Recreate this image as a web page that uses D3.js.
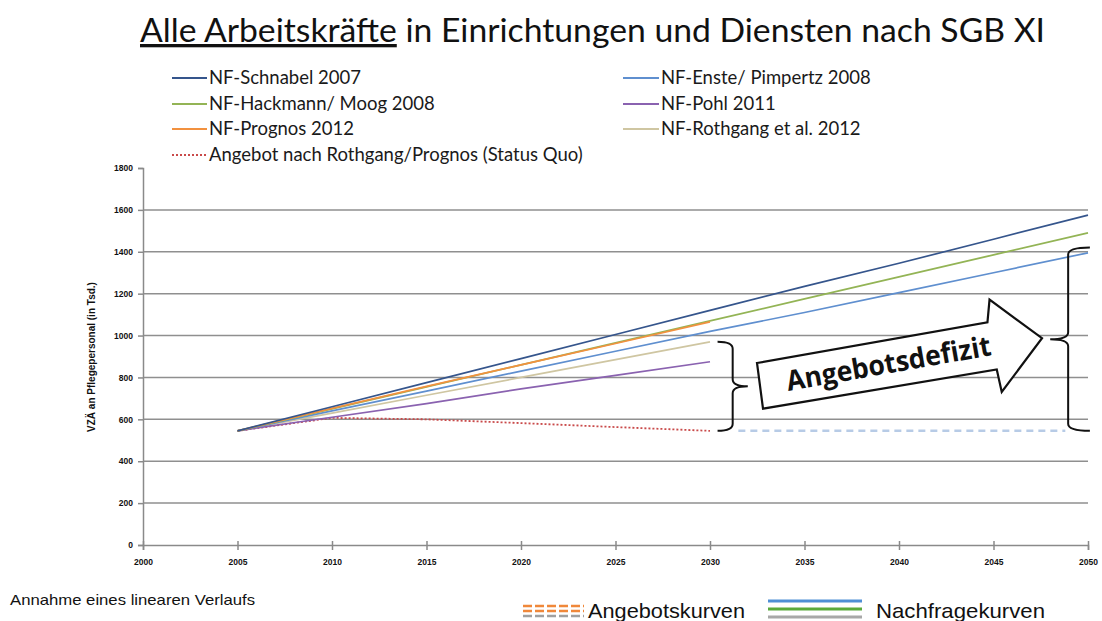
<!DOCTYPE html>
<html>
<head>
<meta charset="utf-8">
<script src="https://cdn.jsdelivr.net/npm/d3@7"></script>
<style>
  body { margin: 0; background: #fff; }
  svg { display: block; }
</style>
</head>
<body>
<div id="chart"></div>
<script>
// data (values in Tsd. VZÄ)
const years = [2005, 2010, 2015, 2020, 2025, 2030, 2035, 2040, 2045, 2050];
const schnabel = [545, 660, 775, 890, 1005, 1120, 1235, 1345, 1460, 1575];
const enste = [545, 640, 735, 830, 925, 1020, 1110, 1205, 1300, 1395];
const hackmann = [545, 650, 755, 860, 965, 1070, 1175, 1280, 1385, 1490];
const pohl = [545, 610, 675, 745, 810, 875];
const prognos = [545, 652, 757, 860, 962, 1065];
const rothgang = [545, 630, 715, 800, 885, 970];
const angebot = [545, 607, 600, 582, 563, 545];
const angebotExtYears = [2031.5, 2048.8];
const angebotExt = [545, 545];

const yTicks = [0, 200, 400, 600, 800, 1000, 1200, 1400, 1600, 1800];
const xTicks = [2000, 2005, 2010, 2015, 2020, 2025, 2030, 2035, 2040, 2045, 2050];

const series = [
    { name: "NF-Schnabel 2007", values: schnabel, color: "#35558c" },
    { name: "NF-Enste/ Pimpertz 2008", values: enste, color: "#5f8fcf" },
    { name: "NF-Hackmann/ Moog 2008", values: hackmann, color: "#93b455" },
    { name: "NF-Pohl 2011", values: pohl, color: "#8a62b0" },
    { name: "NF-Prognos 2012", values: prognos, color: "#f2913f" },
    { name: "NF-Rothgang et al. 2012", values: rothgang, color: "#cfc6a2" },
    { name: "Angebot nach Rothgang/Prognos (Status Quo)", values: angebot, color: "#c94a4a", dash: "2,2" }
];

const width = 1102, height = 621;

let svg = d3.select("#chart")
    .append("svg")
    .attr("width", width)
    .attr("height", height);

let x = d3.scaleLinear().domain([2000, 2050]).range([143, 1088]);
let y = d3.scaleLinear().domain([0, 1800]).range([545, 168]);

// title
let title = svg.append("text")
    .attr("x", 140)
    .attr("y", 42)
    .style("font-family", "Lato, 'Open Sans', sans-serif")
    .style("font-size", "33px")
    .style("fill", "#111")
    .attr("textLength", 905)
    .attr("lengthAdjust", "spacingAndGlyphs");
title.append("tspan").text("Alle Arbeitskräfte").style("text-decoration", "underline");
title.append("tspan").text(" in Einrichtungen und Diensten nach SGB XI");

// legend (two columns)
let legendPos = [
    [172, 78], [623, 78],
    [172, 104], [623, 104],
    [172, 129], [623, 129],
    [172, 155]
];
let legend = svg.append("g").attr("class", "legend");
series.forEach(function (s, i) {
    let p = legendPos[i];
    let lw = p[0] < 500 ? 35 : 36;
    legend.append("line")
        .attr("x1", p[0]).attr("x2", p[0] + lw)
        .attr("y1", p[1]).attr("y2", p[1])
        .style("stroke", s.color)
        .style("stroke-width", 1.8)
        .style("stroke-dasharray", s.dash || null);
    legend.append("text")
        .attr("x", p[0] + lw + 2)
        .attr("y", p[1] + 6)
        .text(s.name)
        .style("font-family", "Lato, sans-serif")
        .style("font-size", "18.5px")
        .style("fill", "#1a1a1a");
});

// grid
svg.append("g")
    .selectAll("line")
    .data(yTicks.filter(d => d > 0 && d < 1800))
    .enter()
    .append("line")
    .attr("x1", x(2000)).attr("x2", x(2050))
    .attr("y1", d => y(d)).attr("y2", d => y(d))
    .style("stroke", "#8f8f8f")
    .style("stroke-width", 1.5);

// y axis
let yAxis = svg.append("g")
    .attr("transform", "translate(" + x(2000) + ",0)")
    .call(d3.axisLeft(y).tickValues(yTicks).tickFormat(d3.format("d")).tickSize(5).tickPadding(5));
yAxis.select(".domain").style("stroke", "#8a8a8a").style("stroke-width", 1.5);
yAxis.selectAll(".tick line").style("stroke", "#8a8a8a").style("stroke-width", 1.5);
yAxis.selectAll(".tick text")
    .style("font-family", "'Liberation Sans', Arial, sans-serif")
    .style("font-weight", "bold")
    .style("font-size", "8.5px")
    .style("fill", "#111");

// x axis
let xAxis = svg.append("g")
    .attr("transform", "translate(0," + y(0) + ")")
    .call(d3.axisBottom(x).tickValues(xTicks).tickFormat(d3.format("d")).tickSize(5).tickPadding(9));
xAxis.select(".domain").style("stroke", "#8a8a8a").style("stroke-width", 1.5);
xAxis.selectAll(".tick line").attr("y1", -4).style("stroke", "#8a8a8a").style("stroke-width", 1.5);
xAxis.selectAll(".tick text")
    .style("font-family", "'Liberation Sans', Arial, sans-serif")
    .style("font-weight", "bold")
    .style("font-size", "8.5px")
    .style("fill", "#111");

svg.append("text")
    .attr("transform", "translate(95,357) rotate(-90)")
    .style("text-anchor", "middle")
    .style("font-family", "'Liberation Sans', Arial, sans-serif")
    .style("font-weight", "bold")
    .style("font-size", "10px")
    .style("fill", "#111")
    .text("VZÄ an Pflegepersonal (in Tsd.)");

// lines
let line = d3.line()
    .x(d => x(d[0]))
    .y(d => y(d[1]));

let drawOrder = [6, 5, 3, 1, 2, 4, 0];
drawOrder.forEach(function (i) {
    let s = series[i];
    svg.append("path")
        .datum(s.values.map((v, j) => [years[j], v]))
        .attr("d", line)
        .style("fill", "none")
        .style("stroke", s.color)
        .style("stroke-width", s.dash ? 1.8 : 1.7)
        .style("stroke-dasharray", s.dash || null);
});

// status quo extension
svg.append("path")
    .datum(angebotExt.map((v, j) => [angebotExtYears[j], v]))
    .attr("d", line)
    .style("fill", "none")
    .style("stroke", "#b7cbe6")
    .style("stroke-width", 2.5)
    .style("stroke-dasharray", "7,5");

// braces
function brace(x0, tipX, nubX, yTop, yBot) {
    let ym = (yTop + yBot) / 2, r = 7;
    return "M" + tipX + "," + yTop +
        "Q" + x0 + "," + yTop + " " + x0 + "," + (yTop + r) +
        "L" + x0 + "," + (ym - r) +
        "Q" + x0 + "," + ym + " " + nubX + "," + ym +
        "Q" + x0 + "," + ym + " " + x0 + "," + (ym + r) +
        "L" + x0 + "," + (yBot - r) +
        "Q" + x0 + "," + yBot + " " + tipX + "," + yBot;
}
svg.append("path")
    .attr("d", brace(x(2031.2), x(2030.4), x(2032.0), y(970), y(545)))
    .style("fill", "none").style("stroke", "#111").style("stroke-width", 2);
svg.append("path")
    .attr("d", brace(x(2048.95), x(2050.1), x(2048.0), y(1420), y(545)))
    .style("fill", "none").style("stroke", "#111").style("stroke-width", 2);

// big arrow
let arrow = svg.append("g")
    .attr("transform", "translate(757,363) rotate(-10)");
arrow.append("polygon")
    .attr("points", [[0, 0], [234, 0], [240, -22], [285, 25], [236, 71], [235, 48], [-2, 46]].join(" "))
    .style("fill", "#fff")
    .style("stroke", "#111")
    .style("stroke-width", 2.2);
arrow.append("text")
    .attr("x", 26)
    .attr("y", 33)
    .attr("textLength", 207)
    .attr("lengthAdjust", "spacingAndGlyphs")
    .text("Angebotsdefizit")
    .style("font-family", "'Open Sans', sans-serif")
    .style("font-weight", "bold")
    .style("font-size", "28px")
    .style("fill", "#111");

// notes at the bottom
svg.append("text")
    .attr("x", 10).attr("y", 605)
    .attr("textLength", 245)
    .attr("lengthAdjust", "spacingAndGlyphs")
    .text("Annahme eines linearen Verlaufs")
    .style("font-family", "'Liberation Sans', sans-serif")
    .style("font-size", "15px")
    .style("fill", "#111");

let dashRows = [["#f0883a", 606], ["#f0883a", 611], ["#a0a0a0", 616]];
dashRows.forEach(function (r) {
    svg.append("line")
        .attr("x1", 523).attr("x2", 584)
        .attr("y1", r[1]).attr("y2", r[1])
        .style("stroke", r[0]).style("stroke-width", 2.5)
        .style("stroke-dasharray", "9,3");
});
svg.append("text")
    .attr("x", 588).attr("y", 618)
    .attr("textLength", 157)
    .attr("lengthAdjust", "spacingAndGlyphs")
    .text("Angebotskurven")
    .style("font-family", "'Liberation Sans', sans-serif")
    .style("font-size", "21px")
    .style("fill", "#111");

let solidRows = [["#4f8fd6", 601], ["#5aaa3c", 609], ["#a8a8a8", 617]];
solidRows.forEach(function (r) {
    svg.append("line")
        .attr("x1", 768).attr("x2", 862)
        .attr("y1", r[1]).attr("y2", r[1])
        .style("stroke", r[0]).style("stroke-width", 3);
});
svg.append("text")
    .attr("x", 876).attr("y", 618)
    .attr("textLength", 169)
    .attr("lengthAdjust", "spacingAndGlyphs")
    .text("Nachfragekurven")
    .style("font-family", "'Liberation Sans', sans-serif")
    .style("font-size", "21px")
    .style("fill", "#111");
</script>
</body>
</html>
